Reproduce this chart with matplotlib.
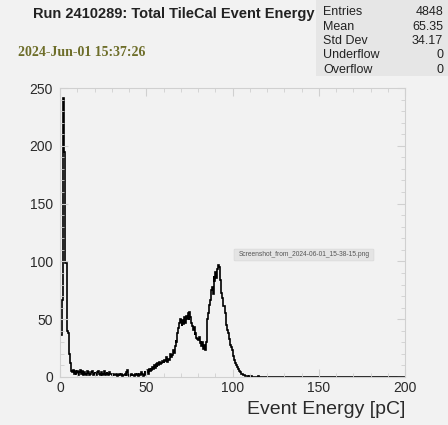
import numpy as np
import matplotlib.pyplot as plt
from matplotlib.patches import Rectangle, FancyBboxPatch

# Histogram contents, 0.5 pC bins from 0 to 120 pC
counts = [
    36, 36, 67, 88, 241, 195, 99, 99, 40, 38,
    25, 20, 12, 5, 4, 6, 3, 5, 4, 3,
    5, 2, 4, 6, 3, 3, 5, 2, 4, 3,
    2, 5, 3, 4, 2, 3, 4, 5, 2, 3,
    4, 3, 2, 4, 5, 3, 2, 3, 4, 2,
    3, 5, 2, 3, 4, 3, 2, 4, 3, 3,
    2, 1, 3, 2, 2, 3, 1, 2, 3, 2,
    2, 3, 1, 2, 2, 3, 1, 4, 6, 2,
    1, 2, 3, 1, 2, 2, 1, 3, 2, 3,
    2, 1, 3, 2, 4, 3, 1, 2, 5, 3,
    4, 6, 3, 7, 5, 8, 6, 9, 7, 10,
    8, 11, 9, 12, 10, 13, 11, 12, 14, 13,
    12, 15, 14, 17, 13, 16, 15, 18, 20, 17,
    19, 23, 21, 27, 32, 30, 38, 42, 47, 50,
    48, 44, 49, 46, 52, 47, 53, 50, 55, 49,
    56, 52, 47, 44, 41, 43, 36, 38, 34, 33,
    32, 35, 29, 31, 27, 30, 24, 28, 23, 30,
    43, 50, 55, 62, 67, 75, 78, 72, 87, 83,
    91, 86, 93, 97, 95, 90, 84, 73, 68, 61,
    61, 55, 52, 45, 41, 38, 33, 28, 26, 23,
    23, 18, 15, 12, 10, 9, 7, 6, 5, 4,
    3, 3, 2, 2, 1, 1, 1, 1, 0, 1,
    0, 0, 1, 0, 0, 0, 0, 0, 0, 0,
    1, 0, 0, 0, 0, 0, 0, 0, 0, 0,
]
counts = counts + [0] * 160   # empty bins 120-200 pC
bin_width = 0.5

title = "Run 2410289: Total TileCal Event Energy"
timestamp = "2024-Jun-01 15:37:26"
stat_names = ["Entries", "Mean", "Std Dev", "Underflow", "Overflow"]
stat_values = ["4848", "65.35", "34.17", "0", "0"]
xlabel = "Event Energy [pC]"
tag = "Screenshot_from_2024-06-01_15-38-15.png"

plt.rcParams['font.family'] = ['Liberation Sans', 'DejaVu Sans']

bg = '#f2f2f2'
fig = plt.figure(figsize=(4.48, 4.25), dpi=100, facecolor=bg)
ax = fig.add_axes([60/448, 48/425, 345/448, 289/425], facecolor=bg)

edges = np.arange(len(counts) + 1) * bin_width
ax.stairs(counts, edges, color='black', lw=1.2)

ax.set_xlim(0, 200)
ax.set_ylim(0, 250)
ax.set_xticks([0, 50, 100, 150, 200])
ax.set_yticks([0, 50, 100, 150, 200, 250])
ax.set_xticks(np.arange(0, 201, 10), minor=True)
ax.set_yticks(np.arange(0, 251, 10), minor=True)
ax.tick_params(which='both', direction='in', top=True, right=True,
               color='#d0d0d0', labelsize=10, labelcolor='#2a2a2a')
ax.tick_params(which='major', length=6)
ax.tick_params(which='minor', length=3)
ax.tick_params(axis='y', pad=5)
ax.tick_params(axis='x', pad=3)
for s in ax.spines.values():
    s.set_color('#d0d0d0')
    s.set_linewidth(0.8)

ax.set_xlabel(xlabel, fontsize=14, color='#2a2a2a', ha='right', va='center')
ax.xaxis.set_label_coords(1.0, -(409 - 377) / 289)

# title and timestamp
fig.text(33/448, 1 - 14/425, title, fontsize=10.5, fontweight='bold',
         ha='left', va='center', color='#222222')
fig.text(18/448, 1 - 52/425, timestamp, fontsize=10, fontweight='bold',
         family=['Liberation Serif', 'DejaVu Serif'], color='#6e6e2a',
         ha='left', va='center')

# stats box
fig.patches.append(Rectangle((316/448, 1 - 76/425), 132/448, 76/425,
                             transform=fig.transFigure, facecolor='#e6e6e6',
                             edgecolor='none'))
rows_y = [12, 27, 41.5, 55.5, 70]
for name, val, yy in zip(stat_names, stat_values, rows_y):
    fig.text(323/448, 1 - yy/425, name, fontsize=9, color='#222222',
             ha='left', va='center')
    fig.text(443/448, 1 - yy/425, val, fontsize=9, color='#222222',
             ha='right', va='center')

# screenshot tag
fig.patches.append(FancyBboxPatch((235/448, 1 - 260/425), 138/448, 10/425,
                                  boxstyle='round,pad=0.002',
                                  transform=fig.transFigure,
                                  facecolor='#e4e4e4', edgecolor='#d8d8d8',
                                  lw=0.5))
fig.text(304/448, 1 - 255/425, tag, fontsize=4.8, color='#555555',
         ha='center', va='center')

fig.savefig('out.png', dpi=100, facecolor=bg)
